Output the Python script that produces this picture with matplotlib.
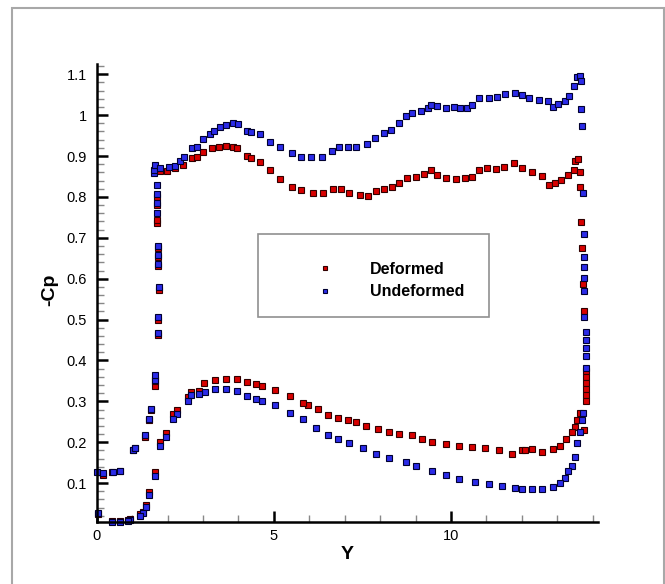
import matplotlib
matplotlib.use('Agg')
import matplotlib.pyplot as plt
from matplotlib.patches import Rectangle
from matplotlib.ticker import MultipleLocator, FormatStrFormatter

plt.rcParams['font.family'] = ['Liberation Sans', 'DejaVu Sans']

# Deformed (red)
def_y = [0.18, 0.44, 0.66, 1.03, 1.07, 1.36, 1.47, 1.54, 1.66, 1.66, 1.72, 1.72, 1.75, 1.73,
         1.73, 1.73, 1.70, 1.70, 1.69, 1.69, 1.66,
         1.80, 1.99, 2.22, 2.45, 2.69, 2.83, 3.00, 3.25, 3.46, 3.64, 3.86, 3.97, 4.23, 4.37,
         4.61, 4.89, 5.17, 5.50, 5.78, 6.10, 6.38, 6.67, 6.90, 7.13, 7.42, 7.65, 7.88, 8.12,
         8.35, 8.54, 8.77, 9.00, 9.24, 9.43, 9.62, 9.85, 10.13, 10.41, 10.60, 10.79, 11.02,
         11.26, 11.49, 11.77, 12.00, 12.29, 12.58, 12.78, 12.93, 13.12, 13.31, 13.46, 13.51,
         13.60, 13.65, 13.65, 13.68, 13.70, 13.73, 13.77, 13.80, 13.80, 13.80, 13.80, 13.80,
         13.80, 13.75, 13.65, 13.57, 13.51, 13.41, 13.26, 13.07, 12.88, 12.58, 12.29, 12.00,
         12.10, 11.72, 11.35, 10.97, 10.60, 10.22, 9.85, 9.47, 9.19, 8.91, 8.54, 8.26, 7.93,
         7.60, 7.32, 7.09, 6.81, 6.52, 6.24, 5.96, 5.82, 5.45, 5.03, 4.66, 4.51, 4.23, 3.95,
         3.64, 3.34, 3.03, 2.90, 2.67, 2.57, 2.27, 2.15, 1.95, 1.80, 1.65, 1.47, 1.40, 1.31,
         1.22, 0.94, 0.88, 0.66, 0.44, 0.03]
def_cp = [0.121, 0.127, 0.129, 0.182, 0.187, 0.214, 0.255, 0.279, 0.337, 0.350, 0.462, 0.500,
          0.572, 0.630, 0.652, 0.675, 0.735, 0.743, 0.780, 0.800, 0.871,
          0.864, 0.864, 0.871, 0.878, 0.895, 0.898, 0.911, 0.920, 0.923, 0.924, 0.921, 0.920,
          0.900, 0.894, 0.886, 0.866, 0.843, 0.825, 0.817, 0.809, 0.809, 0.819, 0.819, 0.810,
          0.805, 0.801, 0.815, 0.819, 0.825, 0.835, 0.845, 0.849, 0.856, 0.866, 0.854, 0.845,
          0.843, 0.845, 0.849, 0.866, 0.870, 0.868, 0.874, 0.882, 0.871, 0.860, 0.850, 0.828,
          0.833, 0.841, 0.854, 0.866, 0.888, 0.892, 0.862, 0.823, 0.738, 0.675, 0.587, 0.521,
          0.374, 0.360, 0.345, 0.330, 0.315, 0.302, 0.230, 0.272, 0.255, 0.238, 0.226, 0.209,
          0.190, 0.184, 0.175, 0.184, 0.181, 0.182, 0.171, 0.182, 0.185, 0.189, 0.190, 0.195,
          0.201, 0.207, 0.217, 0.221, 0.225, 0.232, 0.240, 0.250, 0.254, 0.260, 0.266, 0.281,
          0.291, 0.297, 0.313, 0.327, 0.337, 0.342, 0.347, 0.355, 0.355, 0.352, 0.345, 0.325,
          0.322, 0.310, 0.280, 0.268, 0.222, 0.200, 0.127, 0.079, 0.047, 0.030, 0.025, 0.012,
          0.009, 0.008, 0.008, 0.024]

# Undeformed (blue)
und_y = [0.00, 0.19, 0.47, 0.66, 1.03, 1.07, 1.36, 1.47, 1.54, 1.66, 1.66, 1.72, 1.72, 1.75,
         1.73, 1.73, 1.73, 1.70, 1.69, 1.69, 1.69, 1.63, 1.63,
         1.66, 1.80, 2.03, 2.22, 2.36, 2.47, 2.69, 2.83, 3.00, 3.20, 3.31, 3.48, 3.64, 3.86,
         4.00, 4.23, 4.37, 4.61, 4.89, 5.17, 5.50, 5.78, 6.06, 6.37, 6.65, 6.85, 7.09, 7.32,
         7.62, 7.87, 8.12, 8.31, 8.52, 8.72, 8.91, 9.15, 9.34, 9.43, 9.62, 9.85, 10.08, 10.27,
         10.46, 10.60, 10.79, 11.07, 11.30, 11.54, 11.82, 12.00, 12.20, 12.49, 12.73, 12.88,
         13.02, 13.22, 13.34, 13.46, 13.55, 13.63, 13.67, 13.68, 13.70, 13.72, 13.75, 13.75,
         13.75, 13.77, 13.77, 13.77, 13.80, 13.80, 13.80, 13.80, 13.80, 13.73, 13.71, 13.63,
         13.57, 13.51, 13.41, 13.31, 13.22, 13.07, 12.88, 12.58, 12.29, 12.00, 11.82, 11.44,
         11.07, 10.69, 10.22, 9.85, 9.47, 9.00, 8.72, 8.26, 7.88, 7.51, 7.13, 6.81, 6.52,
         6.20, 5.82, 5.45, 5.03, 4.66, 4.51, 4.23, 3.95, 3.64, 3.34, 3.06, 2.90, 2.67, 2.57,
         2.27, 2.15, 1.95, 1.80, 1.66, 1.47, 1.40, 1.31, 1.22, 0.94, 0.88, 0.66, 0.44, 0.03]
und_cp = [0.127, 0.124, 0.127, 0.129, 0.180, 0.186, 0.217, 0.258, 0.281, 0.352, 0.364, 0.468,
          0.507, 0.580, 0.636, 0.658, 0.680, 0.761, 0.786, 0.807, 0.829, 0.858, 0.866,
          0.878, 0.870, 0.873, 0.876, 0.889, 0.898, 0.919, 0.923, 0.941, 0.953, 0.962, 0.970,
          0.976, 0.980, 0.978, 0.962, 0.958, 0.954, 0.935, 0.923, 0.908, 0.897, 0.897, 0.898,
          0.913, 0.921, 0.923, 0.923, 0.929, 0.943, 0.956, 0.964, 0.980, 0.998, 1.005, 1.011,
          1.017, 1.025, 1.022, 1.017, 1.021, 1.017, 1.017, 1.025, 1.041, 1.041, 1.045, 1.052,
          1.054, 1.049, 1.043, 1.037, 1.035, 1.020, 1.026, 1.035, 1.046, 1.071, 1.094, 1.096,
          1.083, 1.014, 0.973, 0.809, 0.709, 0.653, 0.629, 0.601, 0.571, 0.507, 0.470, 0.450,
          0.430, 0.410, 0.382, 0.272, 0.255, 0.226, 0.197, 0.163, 0.142, 0.129, 0.112, 0.100,
          0.091, 0.085, 0.085, 0.085, 0.089, 0.092, 0.097, 0.103, 0.111, 0.119, 0.130, 0.141,
          0.152, 0.162, 0.172, 0.187, 0.198, 0.209, 0.217, 0.234, 0.256, 0.272, 0.290, 0.302,
          0.306, 0.314, 0.325, 0.331, 0.329, 0.324, 0.319, 0.315, 0.300, 0.270, 0.258, 0.212,
          0.192, 0.118, 0.071, 0.042, 0.026, 0.020, 0.010, 0.008, 0.006, 0.006, 0.026]

labels = ['Deformed', 'Undeformed']
colors = ['#d80000', '#2b2be8']

fig = plt.figure(figsize=(6.65, 5.84), dpi=100)
ax = fig.add_axes([0.1454, 0.1062, 0.7543, 0.7842])

ax.plot(def_y, def_cp, 's', ms=4.4, mfc=colors[0], mec='#300000', mew=0.8,
        ls='none', clip_on=False, label=labels[0])
ax.plot(und_y, und_cp, 's', ms=4.4, mfc=colors[1], mec='#000030', mew=0.8,
        ls='none', clip_on=False, label=labels[1])

ax.set_xlim(0, 14.16)
ax.set_ylim(0.005, 1.125)

for s in ['top', 'right']:
    ax.spines[s].set_visible(False)
for s in ['left', 'bottom']:
    ax.spines[s].set_linewidth(1.8)

ax.xaxis.set_major_locator(MultipleLocator(5))
ax.xaxis.set_minor_locator(MultipleLocator(1))
ax.yaxis.set_major_locator(MultipleLocator(0.1))
ax.yaxis.set_minor_locator(MultipleLocator(0.02))
ax.yaxis.set_major_formatter(FormatStrFormatter('%g'))
ax.xaxis.set_major_formatter(FormatStrFormatter('%g'))
ax.tick_params(which='major', direction='in', length=8, width=1.8, labelsize=10.5)
ax.tick_params(which='minor', direction='in', length=5, width=1.0, color='#888888')
ax.tick_params(axis='x', which='major', pad=5)
ax.tick_params(axis='y', which='major', pad=7)

ax.set_xlabel('Y', fontsize=14, fontweight='bold', labelpad=2)
fig.text(50 / 665, 1 - 290 / 584, '-Cp', rotation=90, fontsize=14, fontweight='bold',
         ha='center', va='center')

# legend box
fig.add_artist(Rectangle((258 / 665, 1 - 317 / 584), 231 / 665, 83 / 584,
                         transform=fig.transFigure, fill=False, ec='#909090', lw=1.2))
leg = ax.legend(loc='upper left', bbox_to_anchor=(309 / 665, 1 - 254 / 584),
                bbox_transform=fig.transFigure, frameon=False, borderpad=0,
                handlelength=1.0, handletextpad=2.3, labelspacing=0.45, markerscale=0.75,
                prop={'weight': 'bold', 'size': 11.5})

# outer frame
fig.add_artist(Rectangle((12 / 665, -0.01), 652 / 665, 1.01 - 8 / 584,
                         transform=fig.transFigure, fill=False, ec='#a8a8a8', lw=1.5))

fig.savefig('out.png', dpi=100)
